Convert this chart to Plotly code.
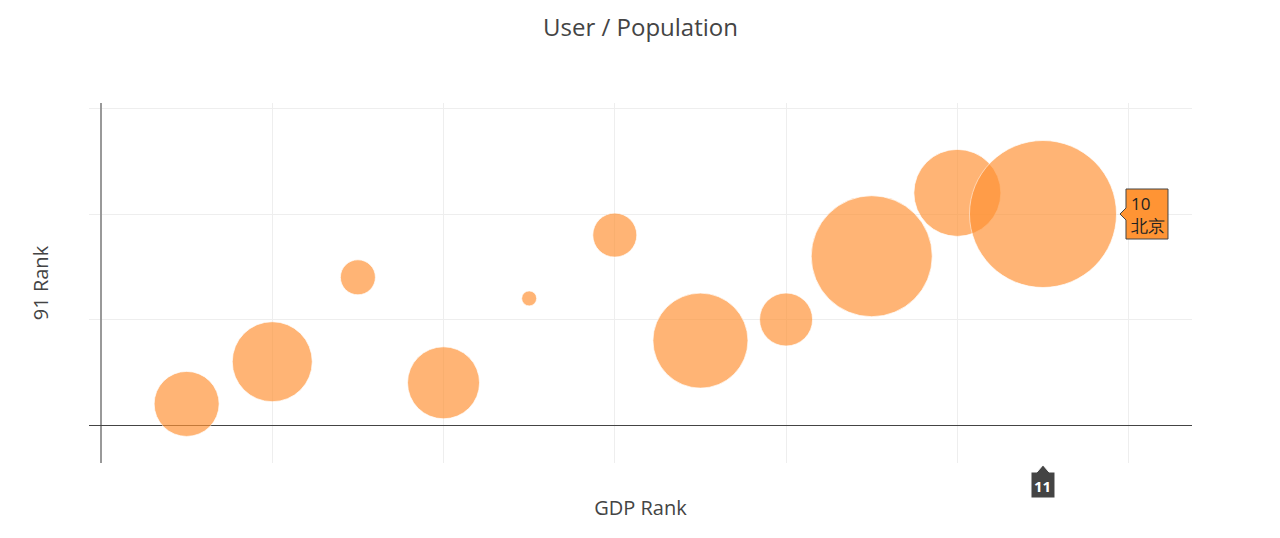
import plotly.graph_objects as go

# Data
gdp_rank = [1, 2, 3, 4, 5, 6, 7, 8, 9, 10, 11]
rank_91 = [1, 3, 7, 2, 6, 9, 4, 5, 8, 11, 10]
population = [65, 80, 35, 72, 15, 44, 95, 53, 121, 87, 147]
city = ["", "", "", "", "", "", "", "", "", "", "北京"]

# Highlighted (hovered) point
hi = 10
hi_x = gdp_rank[hi]
hi_y = rank_91[hi]
hi_name = city[hi]

MARKER = "rgb(255,146,52)"
TXT = "#444"
FONT = "Open Sans, DejaVu Sans, sans-serif"

fig = go.Figure()
fig.add_trace(go.Scatter(
    x=gdp_rank, y=rank_91, mode="markers", text=city,
    marker=dict(size=population, sizemode="diameter", sizeref=1,
                color=MARKER, opacity=0.68,
                line=dict(color="rgba(255,255,255,0.7)", width=1)),
    hovertemplate="%{y}<br>%{text}<extra></extra>",
    showlegend=False,
))

shapes = [
    # y hover label box with pointer
    dict(type="path", xref="x", yref="y", xsizemode="pixel", ysizemode="pixel",
         xanchor=hi_x, yanchor=hi_y,
         path="M 77,0 L 83,6 L 83,25 L 125,25 L 125,-25 L 83,-25 L 83,-6 Z",
         fillcolor="rgb(255,148,52)", line=dict(color="#444", width=1), layer="above"),
    # x hover label box with pointer
    dict(type="path", xref="x", yref="paper", xsizemode="pixel", ysizemode="pixel",
         xanchor=hi_x, yanchor=0,
         path="M 0,-2 L 6,-9 L 12,-9 L 12,-35 L -12,-35 L -12,-9 L -6,-9 Z",
         fillcolor="#444", line=dict(color="#fff", width=1), layer="above"),
]

annotations = [
    dict(x=hi_x, y=hi_y, xref="x", yref="y", text=f"{hi_y}<br>{hi_name}",
         showarrow=False, xanchor="left", yanchor="middle", align="left",
         xshift=86, font=dict(family=FONT, size=17, color="#222")),
    dict(x=hi_x, y=0, xref="x", yref="paper", text=str(hi_x),
         showarrow=False, xanchor="center", yanchor="middle", yshift=-23,
         font=dict(family=FONT, size=15, color="#fff", weight="bold")),
]

fig.update_layout(
    width=1272, height=530,
    margin=dict(l=81, r=88, t=95, b=75),
    paper_bgcolor="white", plot_bgcolor="white",
    title=dict(text="User / Population", x=0.5, xref="paper", xanchor="center",
               y=1 - 20 / 530, yref="container", yanchor="middle",
               font=dict(family=FONT, size=24, color=TXT)),
    font=dict(family=FONT, color=TXT),
    xaxis=dict(range=[-0.14, 12.74], dtick=2, tick0=0, showticklabels=False,
               showgrid=True, gridcolor="#eee", gridwidth=1,
               zeroline=True, zerolinecolor="#999", zerolinewidth=2,
               showline=False, ticks="",
               title=dict(text="GDP Rank", font=dict(family=FONT, size=20, color=TXT), standoff=37)),
    yaxis=dict(range=[-1.8, 15.26], dtick=5, tick0=0, showticklabels=False,
               showgrid=True, gridcolor="#eee", gridwidth=1,
               zeroline=True, zerolinecolor="#444", zerolinewidth=1,
               showline=False, ticks="",
               title=dict(text="91 Rank", font=dict(family=FONT, size=20, color=TXT), standoff=34)),
    shapes=shapes,
    annotations=annotations,
)

fig.write_html("out.html")
